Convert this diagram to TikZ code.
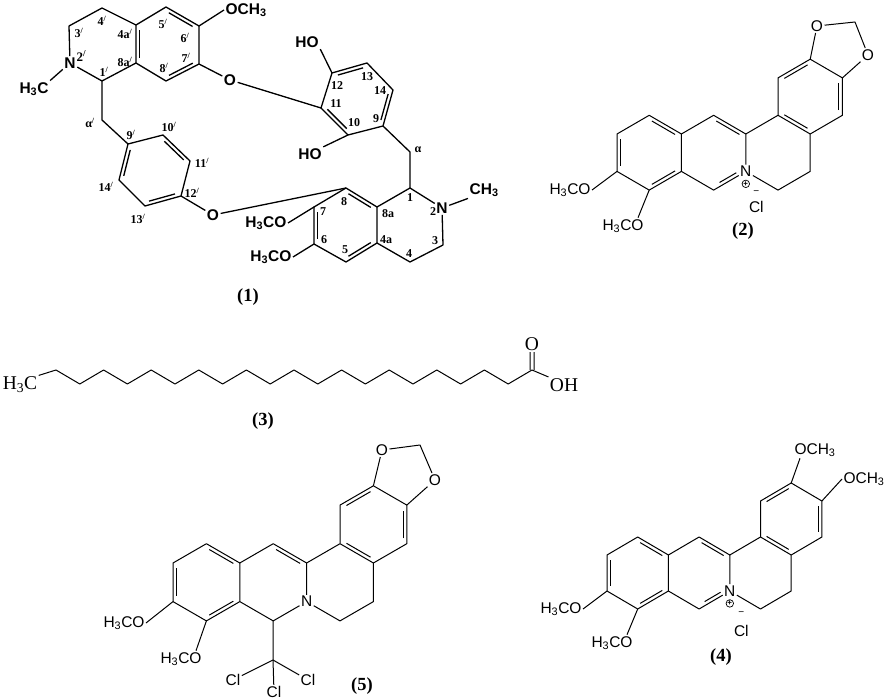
\documentclass[tikz,border=0pt]{standalone}
\usepackage{fontspec}
\setmainfont{Liberation Serif}
\setsansfont{Liberation Sans}
\usetikzlibrary{positioning,calc}

\newcommand{\pr}[1]{#1\textsuperscript{/}}
\newcommand{\inbond}[3][.14]{\draw ($(#2)!#1!(#3)!3.6pt!90:(#3)$) -- ($(#3)!#1!(#2)!-3.6pt!90:(#2)$);}
\newcommand{\tetracycle}{
  \foreach \n/\x/\y in {a1/1/-1,a2/0/0,a3/0/2,a4/1/3,a5/2/2,a6/2/0,b1/3/-1,b2/4/0,b4/3/3,
    c1/5/-1,c2/6/0,c3/6/2,c4/5/3,d1/5/-3,d2/6/-4,d3/7/-3,d4/7/-1}
    \coordinate (\n) at (\x,\y);
  \node[atom] (n) at (4,2) {N};
  \draw (a1) -- (a2) -- (a3) -- (a4) -- (a5) -- (a6) -- (a1);
  \draw (a6) -- (b1) -- (b2) -- (n) -- (b4) -- (a5);
  \draw (b2) -- (c1) -- (c2) -- (c3) -- (c4) -- (n);
  \draw (c1) -- (d1) -- (d2) -- (d3) -- (d4) -- (c2);
  \inbond{a2}{a3} \inbond{a4}{a5} \inbond{a6}{a1} \inbond{b2}{b1}
  \inbond{c1}{c2} \inbond{d4}{d3} \inbond{d2}{d1}
}

\begin{document}
\begin{tikzpicture}[x=1pt,y=-1pt,line width=1pt,line join=round,
    atom/.style={inner sep=1pt,font=\sffamily\fontsize{15.5}{16}\selectfont},
    atomb/.style={inner sep=1pt,font=\sffamily\bfseries\fontsize{15.5}{16}\selectfont},
    atoms/.style={inner sep=1pt,font=\fontsize{19.5}{20}\selectfont},
    lbl/.style={inner sep=0pt,font=\bfseries\fontsize{12}{12}\selectfont},
    molcap/.style={inner sep=0pt,font=\bfseries\fontsize{18.5}{19}\selectfont},
    chgplus/.style={circle,draw,line width=.7pt,inner sep=0pt,minimum size=7.5pt,font=\sffamily\bfseries\fontsize{8}{8}\selectfont},
    chgminus/.style={inner sep=0pt,font=\sffamily\fontsize{10}{10}\selectfont}]
  \useasboundingbox (0,0) rectangle (886,700);

  \begin{scope}[line width=1.3pt]
    \foreach \n/\x/\y in {p1/102/81,p3/69/26,p4/102/8,pa4/136/25,pa8/136/63,p5/166/7,p6/199/26,p7/199/64,p8/166/81,
      pz/102/120,p9/128/144,p10/163/135,p11/190/161,p12/181/196,p13/145/206,p14/119/180,
      u1/410/188,u3/443/245,u4/410/262,ua4/377/243,ua8/377/207,u5/346/262,u6/314/244,u7/314/207,u8/346/188,
      uz/410/152,u9/383/126,u10/348/135,u11/321/108,u12/332/73,u13/367/63,u14/393/90}
      \coordinate (\n) at (\x,\y);
    \node[atomb] (np) at (70,63) {N};
    \node[atomb] (mep) at (34,89) {H\textsubscript{3}C};
    \node[atomb,anchor=west] (ochp) at (224,10) {OCH\textsubscript{3}};
    \node[atomb] (ob) at (230,80) {O};
    \node[atomb] (oc) at (213,215) {O};
    \node[atomb] (hoa) at (307,42) {HO};
    \node[atomb] (hob) at (310,154) {HO};
    \node[atomb] (nu) at (442,208) {N};
    \node[atomb,anchor=west] (meu) at (468,190) {CH\textsubscript{3}};
    \node[atomb,anchor=east] (ome7) at (288,223) {H\textsubscript{3}CO};
    \node[atomb,anchor=east] (ome6) at (293,257) {H\textsubscript{3}CO};

    \draw (p1) -- (np) -- (p3) -- (p4) -- (pa4) -- (pa8) -- (p1);
    \draw (pa4) -- (p5) -- (p6) -- (p7) -- (p8) -- (pa8);
    \draw (np) -- (mep.north east);
    \draw (p6) -- (ochp.west);
    \draw (p7) -- (ob) -- (u11);
    \draw (p1) -- (pz) -- (p9) -- (p10) -- (p11) -- (p12) -- (p13) -- (p14) -- (p9);
    \draw (p12) -- (oc) -- (u8);
    \draw (u12) -- (u13) -- (u14) -- (u9) -- (u10) -- (u11) -- (u12);
    \draw (u12) -- (hoa.south east);
    \draw (u10) -- (hob.north east);
    \draw (u9) -- (uz) -- (u1) -- (nu) -- (u3) -- (u4) -- (ua4) -- (ua8) -- (u1);
    \draw (nu) -- (meu.south west);
    \draw (ua8) -- (u8) -- (u7) -- (u6) -- (u5) -- (ua4);
    \draw (u7) -- (ome7.east);
    \draw (u6) -- (ome6.east);

    \inbond{pa4}{pa8} \inbond{p8}{p7} \inbond{p6}{p5}
    \inbond{p9}{p14} \inbond{p13}{p12} \inbond{p11}{p10}
    \inbond{u13}{u12} \inbond{u11}{u10} \inbond{u9}{u14}
    \inbond{u7}{u6} \inbond{u5}{ua4} \inbond{ua8}{u8}
  \end{scope}

  \foreach \x/\y/\t [count=\i] in {79/33/\pr{3},102/21/\pr{4},125/34/\pr{4a},163/24/\pr{5},185/38/\pr{6},186/58/\pr{7},
      164/68/\pr{8},125/62/\pr{8a},104/72/\pr{1},90/123/\pr{α},131/135/\pr{9},169/127/\pr{10},
      202/163/\pr{11},192/193/\pr{12},138/219/\pr{13},106/187/\pr{14},
      410/198/1,433/212/2,435/241/3,409/254/4,418/150/α,388/214/8a,386/240/4a,345/250/5,324/240/6,323/212/7,344/202/8,
      376/119/9,354/123/10,336/104/11,337/86/12,367/77/13,380/91/14}
    \node[lbl] (lb\i) at (\x,\y) {\t};
  \node[lbl,font=\bfseries\fontsize{13}{13}\selectfont] (lbn) at (81.5,56) {\pr{2}};
  \node[molcap] (t1) at (248,297) {(1)};

  \begin{scope}[shift={(617,134)},x=32.2pt,y=-18.7pt,name prefix=e-]
    \tetracycle
    \inbond[.24]{b4}{n}
  \end{scope}
  \node[atom] (eoa) at (817,26) {O};
  \node[atom] (eob) at (868,55) {O};
  \coordinate (ech) at (855,22);
  \draw (e-d2) -- (eoa) -- (ech) -- (eob) -- (e-d3);
  \node[atom,anchor=east] (eme1) at (592,190) {H\textsubscript{3}CO};
  \node[atom,anchor=east] (eme2) at (645,226) {H\textsubscript{3}CO};
  \draw (e-a3) -- (eme1.east);
  \draw (e-a4) -- ([xshift=-7pt]eme2.north east);
  \node[chgplus,below=1.5pt of e-n] (epl) {+};
  \node[chgminus,right=3pt of epl,yshift=-9pt] (emi) {−};
  \node[atom,below=5pt of emi] (ecl) {Cl};
  \node[molcap] (t2) at (743,231) {(2)};

  \foreach \i in {1,...,21}{
    \pgfmathsetmacro{\yy}{ifthenelse(mod(\i,2)==1,370,384)}
    \coordinate (ch\i) at ({56+23.8*(\i-1)},\yy);
  }
  \draw (ch1) foreach \i in {2,...,21} { -- (ch\i)};
  \node[atoms] (hc) at (20,385) {H\textsubscript{3}C};
  \node[atoms] (co) at (532,344) {O};
  \node[atoms] (oh) at (564,385) {OH};
  \draw (hc.north east) -- (ch1);
  \draw (ch21) -- (oh.north west);
  \draw ([xshift=2pt]ch21) -- ([xshift=2pt]co.south);
  \draw ([xshift=-2pt]ch21) -- ([xshift=-2pt]co.south);
  \node[molcap] (t3) at (263,421) {(3)};

  \begin{scope}[shift={(173,563)},x=33.4pt,y=-19.3pt,name prefix=f-]
    \tetracycle
  \end{scope}
  \node[atom] (foa) at (382,450) {O};
  \node[atom] (fob) at (435,480) {O};
  \coordinate (fch) at (420,445);
  \draw (f-d2) -- (foa) -- (fch) -- (fob) -- (f-d3);
  \node[atom,anchor=east] (fme1) at (146,623) {H\textsubscript{3}CO};
  \node[atom,anchor=east] (fme2) at (203,659) {H\textsubscript{3}CO};
  \draw (f-a3) -- (fme1.east);
  \draw (f-a4) -- ([xshift=-7pt]fme2.north east);
  \coordinate (ftc) at (273,660);
  \node[atom] (fcl1) at (233,680) {Cl};
  \node[atom] (fcl2) at (308,680) {Cl};
  \node[atom] (fcl3) at (274,692) {Cl};
  \draw (f-b4) -- (ftc) -- (fcl1);
  \draw (ftc) -- (fcl2);
  \draw (ftc) -- (fcl3);
  \node[molcap] (t5) at (362,686) {(5)};

  \begin{scope}[shift={(607,555)},x=30.7pt,y=-18pt,name prefix=g-]
    \tetracycle
    \inbond[.24]{b4}{n}
  \end{scope}
  \node[atom,anchor=west] (gme1) at (793,450) {OCH\textsubscript{3}};
  \node[atom,anchor=west] (gme2) at (842,479) {OCH\textsubscript{3}};
  \draw (g-d2) -- ([xshift=7pt]gme1.south west);
  \draw (g-d3) -- (gme2.west);
  \node[atom,anchor=east] (gme3) at (583,609) {H\textsubscript{3}CO};
  \node[atom,anchor=east] (gme4) at (634,643) {H\textsubscript{3}CO};
  \draw (g-a3) -- (gme3.east);
  \draw (g-a4) -- ([xshift=-7pt]gme4.north east);
  \node[chgplus,below=1.5pt of g-n] (gpl) {+};
  \node[chgminus,right=4pt of gpl,yshift=-10pt] (gmi) {−};
  \node[atom,below=8pt of gmi] (gcl) {Cl};
  \node[molcap] (t4) at (721,657) {(4)};
\end{tikzpicture}
\end{document}
